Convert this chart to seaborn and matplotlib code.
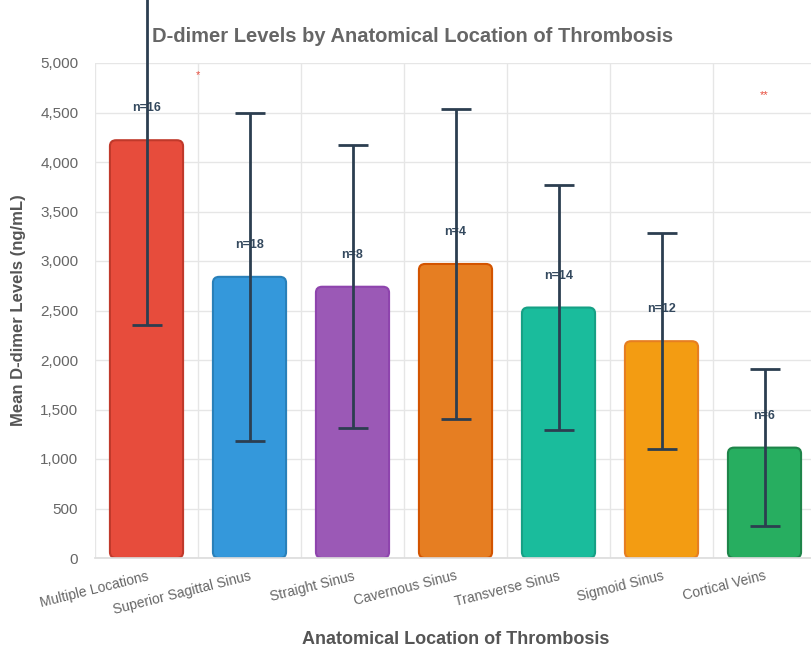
import matplotlib
matplotlib.use("Agg")
import matplotlib.pyplot as plt
import seaborn as sns
import pandas as pd
from matplotlib.patches import FancyBboxPatch
from matplotlib.ticker import FuncFormatter, FixedLocator

locations = ["Multiple Locations", "Superior Sagittal Sinus", "Straight Sinus",
             "Cavernous Sinus", "Transverse Sinus", "Sigmoid Sinus", "Cortical Veins"]
mean_ddimer = [4220, 2840, 2740, 2970, 2530, 2190, 1115]
sd_ddimer = [1870, 1660, 1430, 1570, 1240, 1090, 790]
n_patients = [16, 18, 8, 4, 14, 12, 6]
bar_colors = ["#e74c3c", "#3498db", "#9b59b6", "#e67e22", "#1abc9c", "#f39c12", "#27ae60"]
edge_colors = ["#c0392b", "#2980b9", "#8e44ad", "#d35400", "#16a085", "#e67e22", "#1e8449"]
sig_marks = ["*", "**"]
sig_x = [0.5, 6]
sig_y = [4880, 4680]

df = pd.DataFrame({"location": locations, "mean": mean_ddimer, "sd": sd_ddimer, "n": n_patients})

sns.set_theme(style="white")
plt.rcParams["font.family"] = ["Liberation Sans", "DejaVu Sans"]

fig = plt.figure(figsize=(8.12, 6.5), dpi=100)
ax = fig.add_axes([95 / 812, 92 / 650, 721 / 812, 495 / 650])

sns.barplot(data=df, x="location", y="mean", hue="location", palette=bar_colors,
            legend=False, width=0.71, ax=ax, errorbar=None, saturation=1)

# replace rectangles with rounded boxes derived from the bar geometry
bars = list(ax.patches)
for i, p in enumerate(bars):
    x, y = p.get_x(), p.get_y()
    w, h = p.get_width(), p.get_height()
    p.remove()
    fb = FancyBboxPatch((x, y), w, h,
                        boxstyle="round,pad=0,rounding_size=0.06",
                        mutation_aspect=1000,
                        facecolor=bar_colors[i], edgecolor=edge_colors[i],
                        linewidth=1.5, zorder=2)
    ax.add_patch(fb)

xs = list(range(len(locations)))
ax.errorbar(xs, mean_ddimer, yerr=sd_ddimer, fmt="none", ecolor="#2c3e50",
            elinewidth=2, capsize=10.5, capthick=2, zorder=4, clip_on=False)

for i, (m, n) in enumerate(zip(mean_ddimer, n_patients)):
    ax.annotate(f"n={n}", xy=(i, m), xytext=(0, 32), textcoords="offset pixels",
                ha="center", va="center", fontsize=9, fontweight="bold",
                color="#34495e", zorder=3)

for mk, sx, sy in zip(sig_marks, sig_x, sig_y):
    ax.text(sx, sy, mk, ha="center", va="center", fontsize=8, color="#e74c3c")

ax.set_xlim(-0.5, len(locations) - 0.5)
ax.set_ylim(0, 5000)
ax.set_yticks(range(0, 5001, 500))
ax.yaxis.set_major_formatter(FuncFormatter(lambda v, _: f"{int(v):,}"))

ax.xaxis.set_minor_locator(FixedLocator([i - 0.5 for i in range(len(locations) + 1)]))
ax.grid(True, axis="y", which="major", color="#e6e6e6", linewidth=1, zorder=0)
ax.grid(True, axis="x", which="minor", color="#e6e6e6", linewidth=1, zorder=0)
ax.grid(False, axis="x", which="major")
ax.set_axisbelow(True)

ax.tick_params(axis="x", which="major", length=0, pad=8, labelsize=10, labelcolor="#666666")
ax.tick_params(axis="x", which="minor", length=8, color="#e6e6e6", width=1)
ax.tick_params(axis="y", length=0, pad=12, labelsize=11, labelcolor="#666666")
for lbl in ax.get_xticklabels():
    lbl.set_rotation(14)
    lbl.set_ha("right")
    lbl.set_rotation_mode("anchor")

for s in ["top", "right", "left"]:
    ax.spines[s].set_visible(False)
ax.spines["bottom"].set_color("#dddddd")

ax.set_xlabel("")
ax.set_ylabel("Mean D-dimer Levels (ng/mL)", fontsize=12, fontweight="bold",
              color="#555555", labelpad=10)
fig.text((95 + 721 / 2) / 812, 1 - 640 / 650, "Anatomical Location of Thrombosis",
         ha="center", va="center", fontsize=13, fontweight="bold", color="#555555")
fig.text(0.508, 1 - 37 / 650, "D-dimer Levels by Anatomical Location of Thrombosis",
         ha="center", va="center", fontsize=14.5, fontweight="bold", color="#666666")

fig.savefig("out.png", dpi=100)
